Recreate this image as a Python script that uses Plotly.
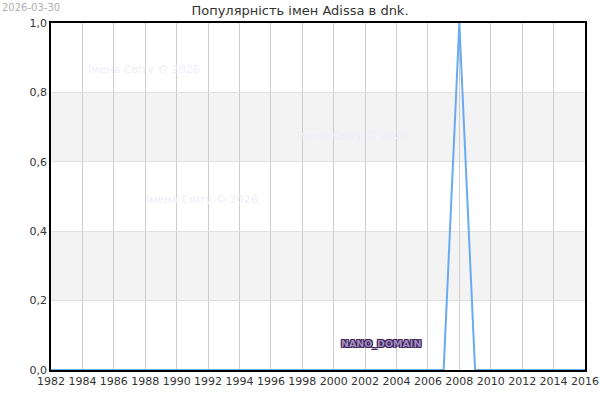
import plotly.graph_objects as go

# Popularity data
years = list(range(1982, 2017))
popularity = [0.0] * len(years)
popularity[years.index(2008)] = 1.0

title_text = "Популярність імен Adissa в dnk."
watermark = "Імена Світу © 2026"
date_label = "2026-03-30"
x_ticks = list(range(1982, 2017, 2))
y_ticks = [0.0, 0.2, 0.4, 0.6, 0.8, 1.0]

fig = go.Figure()

fig.add_trace(go.Scatter(
    x=years, y=popularity, mode="lines",
    line=dict(color="#6aaaf0", width=2),
    hoverinfo="skip", showlegend=False, cliponaxis=False,
))

# shaded bands between gridlines
for y0, y1 in [(0.2, 0.4), (0.6, 0.8)]:
    fig.add_shape(type="rect", xref="paper", yref="y", x0=0, x1=1, y0=y0, y1=y1,
                  fillcolor="#f3f3f3", line_width=0, layer="below")

# faint watermarks
for wx, wy in [(1987.9, 0.865), (2001.2, 0.675), (1991.6, 0.49)]:
    fig.add_annotation(x=wx, y=wy, text=watermark, showarrow=False,
                       font=dict(size=11, color="#eeeefa"))

fig.add_annotation(x=2003.0, y=0.077, text="NANO_DOMAIN", showarrow=False,
                   font=dict(size=9.5, color="#a48cc4", family="DejaVu Sans",
                             weight="bold",
                             shadow="-1px -1px 0 #3b2050, 1px -1px 0 #3b2050, "
                                    "-1px 1px 0 #3b2050, 1px 1px 0 #3b2050"))

fig.add_annotation(xref="paper", yref="paper", x=-0.096, y=1.066, text=date_label,
                   showarrow=False, xanchor="left", yanchor="top",
                   font=dict(size=10, color="#b0b0b0"))

fig.update_layout(
    width=600, height=400,
    margin=dict(l=51, r=15, t=23, b=30, autoexpand=False),
    paper_bgcolor="white", plot_bgcolor="white",
    separators=",.",
    font=dict(family="DejaVu Sans", size=11, color="#333333"),
    title=dict(text=title_text, x=0.5, xanchor="center", y=0.985, yanchor="top",
               font=dict(size=13, color="#333333")),
    xaxis=dict(range=[1982, 2016], tickvals=x_ticks, tickformat="d",
               showgrid=True, gridcolor="#cccccc", gridwidth=1,
               showline=True, linecolor="black", linewidth=1.5, mirror=True,
               ticks="", zeroline=False, fixedrange=True, automargin=False),
    yaxis=dict(range=[0, 1], tickvals=y_ticks, tickformat=".1f",
               showgrid=True, gridcolor="#e0e0e0", gridwidth=1,
               showline=True, linecolor="black", linewidth=1.5, mirror=True,
               ticks="", zeroline=False, fixedrange=True, automargin=False),
)

# drop the browser's default page margin so the figure sits at the top-left corner
fig.write_html("out.html", config={"displayModeBar": False},
               post_script="document.body.style.margin='0';document.body.style.overflow='hidden';")
